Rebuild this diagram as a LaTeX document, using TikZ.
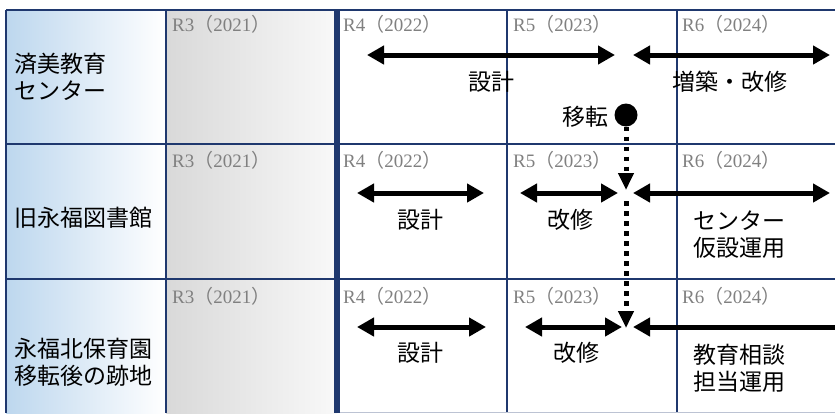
\documentclass[tikz,border=0pt]{standalone}
\usepackage{fontspec}
\setmainfont{Noto Sans CJK JP}
\newfontfamily\yearfont{Liberation Serif}
\usetikzlibrary{arrows.meta}
\definecolor{navy}{RGB}{31,56,110}
\definecolor{paleblue}{RGB}{189,215,238}
\definecolor{yeargray}{RGB}{128,128,128}
\newcommand{\yearlbl}[2]{{\yearfont R#1}（{\yearfont #2}）}
\begin{document}
\begin{tikzpicture}[x=1pt,y=-1pt,
    grid/.style={navy,line width=2pt},
    bar/.style={line width=5pt,{Triangle[length=17pt,width=18pt]}-{Triangle[length=17pt,width=18pt]}},
    lbar/.style={line width=5pt,{Triangle[length=17pt,width=18pt]}-},
    dotarrow/.style={line width=5pt,dash pattern=on 4.5pt off 5.5pt,-{Triangle[length=17pt,width=15pt]}},
    dot/.style={circle,fill,inner sep=0,minimum size=23pt},
    yeartxt/.style={anchor=base west,inner sep=0,yeargray,font=\fontsize{19}{21}\selectfont},
    every node/.style={inner sep=0,font=\fontsize{23}{27}\selectfont}]
  \useasboundingbox (0,0) rectangle (835,413);
  % shaded columns
  \shade[left color=paleblue,right color=white] (6,10) rectangle (166,413);
  \shade[left color=gray!30,right color=gray!5] (166,10) rectangle (337,413);
  % grid
  \draw[grid,line width=2.5pt] (6,10)--(835,10);
  \draw[grid] (6,10)--(6,413);
  \draw[grid] (6,143.5)--(835,143.5);
  \draw[grid] (6,279)--(835,279);
  \foreach \x in {166,507,677}
    \draw[grid] (\x,10)--(\x,413);
  \draw[grid,line width=5.5pt] (337,10)--(337,413);
  \draw[line width=1.5pt,navy!30] (340,412.5)--(835,412.5);
  % years
  \foreach \y/\r in {31/a,167/b,303/c}{
    \node[yeartxt] (y3\r) at (172,\y) {\yearlbl{3}{2021}};
    \node[yeartxt] (y4\r) at (343,\y) {\yearlbl{4}{2022}};
    \node[yeartxt] (y5\r) at (513,\y) {\yearlbl{5}{2023}};
    \node[yeartxt] (y6\r) at (682,\y) {\yearlbl{6}{2024}};
  }
  % row heads
  \node[anchor=west,align=left] (centre) at (14,76.5) {済美教育\\センター};
  \node[anchor=west] (library) at (14,218) {旧永福図書館};
  \node[anchor=west,align=left] (nursery) at (14,362) {永福北保育園\\移転後の跡地};
  % row 1
  \draw[bar] (367,55)--(615,55);
  \draw[bar] (633,55)--(830,55);
  \node (design1) at (491,82) {設計};
  \node (build) at (730,82) {増築・改修};
  \node[dot] (move) at (626,115) {};
  \node (movetxt) at (585,117) {移転};
  % row 2
  \draw[bar] (357,193)--(484,193);
  \draw[bar] (520,193)--(618,193);
  \draw[bar] (633,193)--(830,193);
  \node (design2) at (420,220) {設計};
  \node (repair2) at (570,220) {改修};
  \node[anchor=west,align=left] (temp) at (693,235) {センター\\仮設運用};
  % row 3
  \draw[bar] (357,327)--(486,327);
  \draw[bar] (525,327)--(622,327);
  \draw[lbar] (633,327)--(835,327);
  \node (design3) at (420,353) {設計};
  \node (repair3) at (576,353) {改修};
  \node[anchor=west,align=left] (consult) at (693,368) {教育相談\\担当運用};
  % relocation
  \coordinate (stop2) at (626,190);
  \coordinate (restart) at (626,201);
  \coordinate (stop3) at (626,328);
  \draw[dotarrow] (move) -- (stop2);
  \draw[dotarrow] (restart) -- (stop3);
\end{tikzpicture}
\end{document}
